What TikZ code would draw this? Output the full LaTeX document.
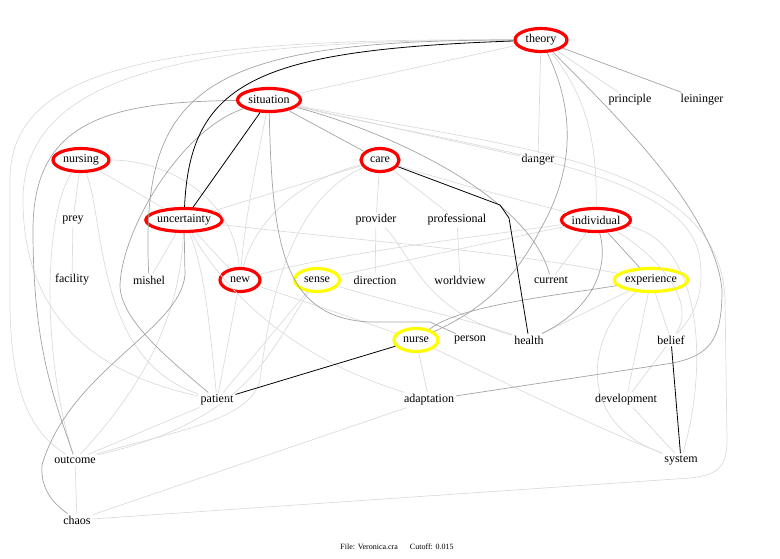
\documentclass[tikz,border=0pt]{standalone}
\usepackage{fontspec}
\setmainfont{Liberation Serif}
\usepackage{tikz}
\usetikzlibrary{shapes.geometric}
\definecolor{ringred}{HTML}{FF0000}
\definecolor{ringyellow}{HTML}{FFFF00}
\definecolor{edgegray}{HTML}{A3A3A3}
\definecolor{edgelight}{HTML}{DCDCDC}

\begin{document}
\begin{tikzpicture}[x=1pt, y=-1pt, every node/.style={font=\fontsize{12}{14}\selectfont}, word/.style={inner sep=2pt}, hub/.style={ellipse, draw=#1, line width=3.2pt, inner sep=0pt, minimum height=23pt}, faint/.style={edgelight, line width=0.7pt}, medium/.style={edgegray, line width=0.7pt}, heavy/.style={black, line width=0.8pt}]
\useasboundingbox (0,0) rectangle (780,559);
% terms
\node[hub=ringred, minimum width=52pt] (theory) at (541,40) {theory};
\node[hub=ringred, minimum width=63pt] (situation) at (269,100) {situation};
\node[word] (principle) at (630,100) {principle};
\node[word] (leininger) at (702,100) {leininger};
\node[hub=ringred, minimum width=56pt] (nursing) at (81,160) {nursing};
\node[hub=ringred, minimum width=38pt] (care) at (380,160) {care};
\node[word] (danger) at (538,160) {danger};
\node[word] (prey) at (73,220) {prey};
\node[hub=ringred, minimum width=73pt] (uncertainty) at (184,220) {uncertainty};
\node[word] (provider) at (376,220) {provider};
\node[word] (professional) at (457,220) {professional};
\node[hub=ringred, minimum width=69pt] (individual) at (596,220) {individual};
\node[word] (facility) at (72,280) {facility};
\node[word] (mishel) at (149,280) {mishel};
\node[hub=ringred, minimum width=40pt] (new) at (240,280) {new};
\node[hub=ringyellow, minimum width=45pt] (sense) at (317,280) {sense};
\node[word] (direction) at (375,280) {direction};
\node[word] (worldview) at (460,280) {worldview};
\node[word] (current) at (551,280) {current};
\node[hub=ringyellow, minimum width=73pt] (experience) at (651,280) {experience};
\node[hub=ringyellow, minimum width=44pt] (nurse) at (416,340) {nurse};
\node[word] (person) at (470,340) {person};
\node[word] (health) at (529,340) {health};
\node[word] (belief) at (671,340) {belief};
\node[word] (patient) at (217,400) {patient};
\node[word] (adaptation) at (429,400) {adaptation};
\node[word] (development) at (626,400) {development};
\node[word] (outcome) at (75,460) {outcome};
\node[word] (system) at (681,460) {system};
\node[word] (chaos) at (77,520) {chaos};
\node[font=\fontsize{8}{9}\selectfont] (footer) at (397,547) {File: Veronica.cra\hspace{12pt}Cutoff: 0.015};

% faint links
\draw[faint] (theory) -- (situation);
\draw[faint] (theory) -- (danger);
\draw[faint] (theory) -- (principle);
\draw[faint] (theory) .. controls (590,100) and (597,150) .. (individual);
\draw[faint] (theory) .. controls (150,38) and (10,70) .. (10,180) -- (10,300) .. controls (10,400) and (35,435) .. (outcome);
\draw[faint] (theory) .. controls (200,40) and (23,70) .. (23,200) .. controls (23,320) and (100,375) .. (patient);
\draw[faint] (nursing) -- (prey);
\draw[faint] (nursing) .. controls (45,210) and (40,350) .. (outcome);
\draw[faint] (nursing) .. controls (105,220) and (95,360) .. (patient);
\draw[faint] (nursing) -- (uncertainty);
\draw[faint] (nursing) .. controls (170,160) and (235,200) .. (new);
\draw[faint] (prey) -- (facility);
\draw[faint] (uncertainty) -- (mishel);
\draw[faint] (uncertainty) -- (new);
\draw[faint] (uncertainty) .. controls (205,270) and (210,330) .. (patient);
\draw[faint] (uncertainty) .. controls (350,240) and (500,250) .. (experience);
\draw[faint] (uncertainty) .. controls (230,300) and (300,360) .. (adaptation);
\draw[faint] (uncertainty) .. controls (180,320) and (140,390) .. (outcome);
\draw[faint] (situation) -- (danger);
\draw[faint] (situation) .. controls (480,150) and (690,170) .. (700,260) .. controls (705,300) and (690,320) .. (belief);
\draw[faint] (situation) .. controls (520,150) and (720,160) .. (725,300) -- (727,440) .. controls (727,470) and (715,475) .. (690,478) -- (chaos);
\draw[faint] (situation) .. controls (255,170) and (245,220) .. (new);
\draw[faint] (care) -- (provider);
\draw[faint] (care) -- (professional);
\draw[faint] (care) -- (uncertainty);
\draw[faint] (care) .. controls (300,180) and (255,220) .. (new);
\draw[faint] (care) .. controls (290,200) and (270,300) .. (260,380) .. controls (250,420) and (180,430) .. (outcome);
\draw[faint] (care) .. controls (460,185) and (520,200) .. (individual);
\draw[faint] (provider) -- (direction);
\draw[faint] (professional) -- (worldview);
\draw[faint] (provider) .. controls (410,250) and (420,310) .. (health);
\draw[faint] (individual) -- (current);
\draw[faint] (new) .. controls (330,255) and (450,240) .. (individual);
\draw[faint] (sense) .. controls (400,262) and (500,240) .. (individual);
\draw[faint] (individual) .. controls (700,240) and (710,360) .. (system);
\draw[faint] (individual) .. controls (650,250) and (700,300) .. (belief);
\draw[faint] (experience) -- (belief);
\draw[faint] (experience) -- (development);
\draw[faint] (experience) .. controls (590,330) and (570,420) .. (system);
\draw[faint] (experience) -- (health);
\draw[faint] (development) -- (belief);
\draw[faint] (development) -- (system);
\draw[faint] (nurse) -- (adaptation);
\draw[faint] (nurse) .. controls (500,380) and (600,430) .. (system);
\draw[faint] (chaos) -- (outcome);
\draw[faint] (chaos) -- (adaptation);
\draw[faint] (outcome) -- (patient);
\draw[faint] (sense) -- (patient);
\draw[faint] (new) -- (patient);
\draw[faint] (sense) .. controls (400,305) and (470,320) .. (health);
\draw[faint] (new) .. controls (300,300) .. (nurse);
\draw[faint] (sense) .. controls (270,350) and (250,420) .. (outcome);

% medium links
\draw[medium] (theory) -- (leininger);
\draw[medium] (situation) -- (care);
\draw[medium] (theory) .. controls (200,40) and (140,90) .. (mishel);
\draw[medium] (situation) .. controls (110,102) and (33,120) .. (33,230) .. controls (33,350) and (55,400) .. (outcome);
\draw[medium] (uncertainty) -- (185,275) .. controls (180,330) and (70,370) .. (42,465) .. controls (40,490) and (55,505) .. (chaos);
\draw[medium] (situation) .. controls (180,130) and (122,230) .. (120,285) .. controls (120,320) and (170,360) .. (patient);
\draw[medium] (theory) .. controls (575,110) and (575,170) .. (540,230) .. controls (510,290) and (470,315) .. (nurse);
\draw[medium] (theory) .. controls (610,110) and (715,210) .. (722,290) .. controls (722,340) and (710,355) .. (673,363) -- (adaptation);
\draw[medium] (situation) .. controls (400,135) and (530,200) .. (current);
\draw[medium] (situation) .. controls (272,250) and (285,318) .. (370,322) -- (430,322) -- (person);
\draw[medium] (individual) -- (experience);
\draw[medium] (individual) .. controls (610,270) and (590,310) .. (health);
\draw[medium] (experience) .. controls (560,295) and (460,305) .. (nurse);

% heavy links
\draw[heavy] (theory) .. controls (260,50) and (190,80) .. (uncertainty);
\draw[heavy] (situation) -- (uncertainty);
\draw[heavy] (care) -- (500,205) -- (509,218) -- (health);
\draw[heavy] (nurse) -- (patient);
\draw[heavy] (belief) -- (system);
\end{tikzpicture}
\end{document}
